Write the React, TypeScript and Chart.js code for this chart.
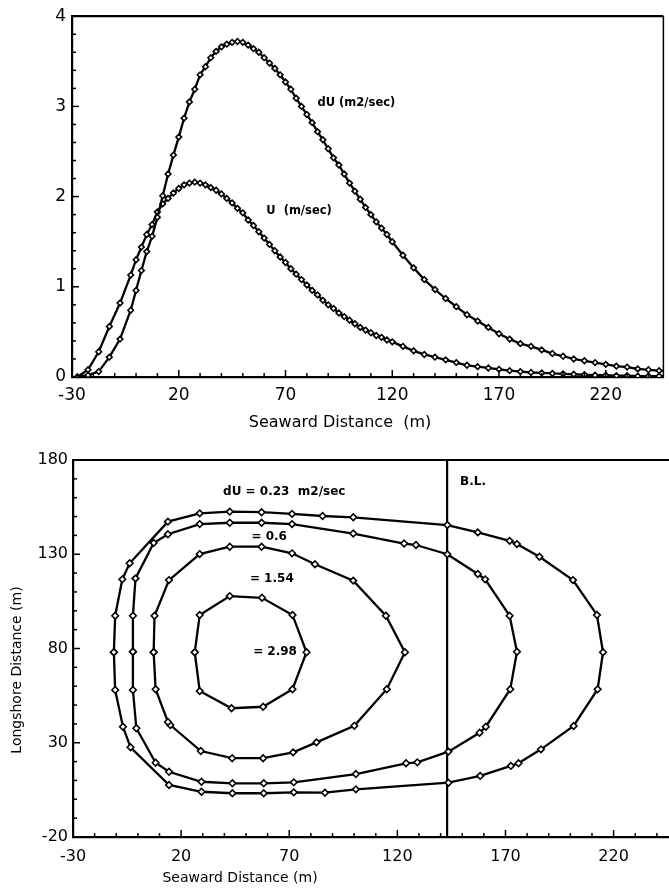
import React, { useEffect, useRef } from "react";
import { Chart, registerables } from "chart.js";

Chart.register(...registerables);

const FONT = "'DejaVu Sans', 'Liberation Sans', sans-serif";

// ---------------- Top chart: profiles across the surf zone ----------------
const seawardX = [
  -27.5, -22.5, -17.5, -12.5, -7.5, -2.5, 0, 2.5, 5, 7.5, 10, 12.5, 15, 17.5, 20, 22.5, 25, 27.5, 30, 32.5,
  35, 37.5, 40, 42.5, 45, 47.5, 50, 52.5, 55, 57.5, 60, 62.5, 65, 67.5, 70, 72.5, 75, 77.5, 80, 82.5,
  85, 87.5, 90, 92.5, 95, 97.5, 100, 102.5, 105, 107.5, 110, 112.5, 115, 117.5, 120, 125, 130, 135, 140, 145,
  150, 155, 160, 165, 170, 175, 180, 185, 190, 195, 200, 205, 210, 215, 220, 225, 230, 235, 240, 245, 250,
];
const dUValues = [
  0.0, 0.02, 0.06, 0.22, 0.42, 0.74, 0.96, 1.18, 1.39, 1.56, 1.77, 2.01, 2.25, 2.46, 2.66, 2.87, 3.05, 3.19, 3.35, 3.44,
  3.54, 3.61, 3.66, 3.69, 3.71, 3.72, 3.71, 3.68, 3.64, 3.6, 3.54, 3.48, 3.42, 3.35, 3.27, 3.19, 3.09, 3.0, 2.91, 2.82,
  2.72, 2.63, 2.53, 2.43, 2.35, 2.25, 2.15, 2.06, 1.97, 1.88, 1.8, 1.72, 1.65, 1.58, 1.5, 1.35, 1.21, 1.08, 0.97, 0.87,
  0.78, 0.69, 0.62, 0.55, 0.48, 0.42, 0.37, 0.34, 0.3, 0.26, 0.23, 0.2, 0.18, 0.16, 0.14, 0.12, 0.11, 0.09, 0.08, 0.07, 0.06,
];
const uValues = [
  0.0, 0.08, 0.28, 0.56, 0.82, 1.13, 1.3, 1.44, 1.58, 1.69, 1.83, 1.92, 1.98, 2.04, 2.09, 2.13, 2.15, 2.16, 2.15, 2.13,
  2.1, 2.07, 2.03, 1.98, 1.93, 1.87, 1.82, 1.74, 1.68, 1.61, 1.54, 1.47, 1.4, 1.33, 1.27, 1.2, 1.14, 1.08, 1.02, 0.96,
  0.91, 0.85, 0.8, 0.76, 0.71, 0.67, 0.63, 0.59, 0.55, 0.52, 0.49, 0.46, 0.44, 0.41, 0.39, 0.34, 0.29, 0.25, 0.22, 0.19,
  0.16, 0.13, 0.115, 0.1, 0.085, 0.07, 0.06, 0.05, 0.045, 0.04, 0.035, 0.03, 0.025, 0.02, 0.02, 0.015, 0.015, 0.01, 0.01, 0.01, 0.01,
];
const topXTicks = [-30, 20, 70, 120, 170, 220];
const topYTicks = [0, 1, 2, 3, 4];
const topLabelTexts = ["dU (m2/sec)", "U  (m/sec)"];
const topLabelX = [85, 61];
const topLabelY = [3.04, 1.84];

// ---------------- Bottom chart: dU contours ----------------
const contour023X = [-11.1, -10.5, -7.2, -3.8, 13.9, 28.6, 42.5, 57.2, 71.3, 85.4, 99.6, 143.1, 157.2, 171.9, 175.3, 185.7, 201.2, 212.3, 215.1, 212.6, 201.5, 186.4, 176.0, 172.5, 158.3, 143.6, 100.8, 86.5, 72.1, 58.2, 43.7, 29.4, 14.4, -3.4, -6.9, -10.5, -11.1];
const contour023Y = [78, 97.4, 116.7, 125.2, 147.3, 151.7, 152.6, 152.3, 151.4, 150.3, 149.6, 145.5, 141.6, 137.1, 135.4, 128.7, 116.3, 97.8, 78, 58.4, 38.9, 26.5, 19.1, 17.7, 12.4, 8.8, 5.3, 3.5, 3.7, 3.2, 3.2, 4.0, 7.6, 27.6, 38.5, 58, 78];
const contour06X = [-2.3, -2.3, -1.1, 7.3, 13.9, 28.6, 42.5, 57.2, 71.3, 99.6, 123.1, 128.6, 143.1, 157.2, 160.6, 171.9, 175.3, 172.2, 160.9, 158.0, 143.6, 129.2, 124.0, 100.8, 72.1, 58.2, 43.7, 29.4, 14.4, 8.2, -0.7, -2.3, -2.3];
const contour06Y = [78.3, 97.4, 117.2, 136, 140.6, 146, 146.7, 146.7, 146, 141, 135.7, 134.9, 130, 119.5, 116.7, 97.4, 78.3, 58.4, 38.5, 35.3, 25.3, 19.6, 19.1, 13.4, 9.0, 8.5, 8.5, 9.3, 14.6, 19.4, 37.7, 58, 78.3];
const contour154X = [7.3, 7.7, 14.4, 28.6, 42.5, 57.2, 71.3, 81.9, 99.6, 114.7, 123.5, 115.1, 100.1, 82.6, 71.8, 57.9, 43.6, 29.1, 15.0, 13.9, 8.2, 7.3];
const contour154Y = [78, 97.4, 116.3, 130.1, 134, 134, 130.5, 124.7, 116, 97.4, 78, 58.4, 39, 30.2, 24.9, 21.8, 21.8, 25.6, 39.4, 41, 58.4, 78];
const contour298X = [26.3, 28.6, 42.5, 57.4, 71.5, 78.0, 71.5, 57.9, 43.3, 28.6, 26.3];
const contour298Y = [78, 97.8, 107.8, 106.9, 97.8, 78, 58.4, 49.1, 48.3, 57.4, 78];
const contourLevels = ["0.23", "0.6", "1.54", "2.98"];
const bottomXTicks = [-30, 20, 70, 120, 170, 220];
const bottomYTicks = [-20, 30, 80, 130, 180];
const breakerLineX = 143;
const bottomLabelTexts = ["dU = 0.23  m2/sec", "= 0.6", "= 1.54", "= 2.98", "B.L."];
const bottomLabelX = [39.4, 52.5, 51.8, 53.3, 149];
const bottomLabelY = [163.2, 139.3, 116.7, 78, 168.5];

const zip = (xs: number[], ys: number[]) => xs.map((x, i) => ({ x, y: ys[i] }));

function seriesStyle(radius: number) {
  return {
    showLine: true,
    borderColor: "#000",
    borderWidth: 2.3,
    pointStyle: "rectRot",
    pointRadius: radius,
    pointBackgroundColor: "#fff",
    pointBorderColor: "#000",
    pointBorderWidth: 1.6,
    fill: false,
    tension: 0,
  };
}

type Overlay = {
  xStart: number; xMinor: number; xMajor: number;
  yStart: number; yMinor: number; yMajor: number;
  frameTop: boolean; frameRight: boolean;
  vLineX?: number;
  labels: { text: string; x: number; y: number }[];
  labelFont: string;
  titles: { text: string; x: number; y: number; rotate?: boolean; font: string }[];
};

function overlayPlugin(cfg: Overlay) {
  return {
    id: "overlay",
    beforeDatasetsDraw(chart: any) {
      if (cfg.vLineX === undefined) return;
      const { ctx, chartArea: a, scales } = chart;
      const px = scales.x.getPixelForValue(cfg.vLineX);
      ctx.save();
      ctx.strokeStyle = "#000";
      ctx.lineWidth = 2.2;
      ctx.beginPath();
      ctx.moveTo(px, a.top);
      ctx.lineTo(px, a.bottom);
      ctx.stroke();
      ctx.restore();
    },
    afterDraw(chart: any) {
      const { ctx, chartArea: a, scales } = chart;
      const xs = scales.x;
      const ys = scales.y;
      ctx.save();
      ctx.strokeStyle = "#000";
      ctx.fillStyle = "#000";
      ctx.lineWidth = 1.5;
      const isMajor = (v: number, s: number, m: number) => {
        const k = (v - s) / m;
        return Math.abs(k - Math.round(k)) < 1e-6;
      };
      for (let v = cfg.xStart; v <= xs.max + 1e-9; v += cfg.xMinor) {
        const px = xs.getPixelForValue(v);
        const len = isMajor(v, cfg.xStart, cfg.xMajor) ? 7 : 4;
        ctx.beginPath();
        ctx.moveTo(px, a.bottom);
        ctx.lineTo(px, a.bottom - len);
        ctx.stroke();
      }
      for (let v = cfg.yStart; v <= ys.max + 1e-9; v += cfg.yMinor) {
        const py = ys.getPixelForValue(v);
        const len = isMajor(v, cfg.yStart, cfg.yMajor) ? 7 : 4;
        ctx.beginPath();
        ctx.moveTo(a.left, py);
        ctx.lineTo(a.left + len, py);
        ctx.stroke();
      }
      if (cfg.frameTop) {
        ctx.lineWidth = 2.2;
        ctx.beginPath();
        ctx.moveTo(a.left, a.top);
        ctx.lineTo(a.right, a.top);
        ctx.stroke();
      }
      if (cfg.frameRight) {
        ctx.lineWidth = 1.5;
        ctx.beginPath();
        ctx.moveTo(a.right, a.top);
        ctx.lineTo(a.right, a.bottom);
        ctx.stroke();
      }
      ctx.font = cfg.labelFont;
      ctx.textAlign = "left";
      ctx.textBaseline = "middle";
      cfg.labels.forEach((l) => {
        ctx.fillText(l.text, xs.getPixelForValue(l.x), ys.getPixelForValue(l.y));
      });
      cfg.titles.forEach((t) => {
        ctx.save();
        ctx.font = t.font;
        ctx.translate(t.x, t.y);
        if (t.rotate) ctx.rotate(-Math.PI / 2);
        ctx.textAlign = "center";
        ctx.textBaseline = "middle";
        ctx.fillText(t.text, 0, 0);
        ctx.restore();
      });
      ctx.restore();
    },
  };
}

function axes(opts: {
  xMin: number; xMax: number; yMin: number; yMax: number;
  xTicks: number[]; yTicks: number[]; yWidth: number; xHeight: number;
  tickFont: number; xPad: number; yPad: number;
}) {
  return {
    x: {
      type: "linear",
      min: opts.xMin,
      max: opts.xMax,
      grid: { display: false, drawTicks: false },
      border: { display: true, color: "#000", width: 2.2 },
      ticks: {
        autoSkip: false,
        maxRotation: 0,
        padding: opts.xPad,
        color: "#000",
        font: { family: FONT, size: opts.tickFont },
        callback: (v: number) => String(v),
      },
      afterBuildTicks: (s: any) => {
        s.ticks = opts.xTicks.map((v) => ({ value: v }));
      },
      afterFit: (s: any) => {
        s.height = opts.xHeight;
      },
    },
    y: {
      type: "linear",
      min: opts.yMin,
      max: opts.yMax,
      grid: { display: false, drawTicks: false },
      border: { display: true, color: "#000", width: 2.2 },
      ticks: {
        autoSkip: false,
        padding: opts.yPad,
        color: "#000",
        font: { family: FONT, size: opts.tickFont },
        callback: (v: number) => String(v),
      },
      afterBuildTicks: (s: any) => {
        s.ticks = opts.yTicks.map((v) => ({ value: v }));
      },
      afterFit: (s: any) => {
        s.width = opts.yWidth;
      },
    },
  };
}

function buildTop(): any {
  return {
    type: "scatter",
    data: {
      datasets: [
        { label: "dU (m2/sec)", data: zip(seawardX, dUValues), ...seriesStyle(2.8) },
        { label: "U (m/sec)", data: zip(seawardX, uValues), ...seriesStyle(2.8) },
      ],
    },
    options: {
      responsive: false,
      animation: false,
      devicePixelRatio: 1,
      layout: { padding: { left: 0, top: 10, right: 4, bottom: 0 } },
      plugins: { legend: { display: false }, tooltip: { enabled: false } },
      scales: axes({
        xMin: -30, xMax: 247, yMin: 0, yMax: 4,
        xTicks: topXTicks, yTicks: topYTicks,
        yWidth: 72, xHeight: 68, tickFont: 17, xPad: 8, yPad: 6,
      }),
    },
    plugins: [
      overlayPlugin({
        xStart: -30, xMinor: 10, xMajor: 50,
        yStart: 0, yMinor: 0.2, yMajor: 1,
        frameTop: true, frameRight: true,
        labels: topLabelTexts.map((t, i) => ({ text: t, x: topLabelX[i], y: topLabelY[i] })),
        labelFont: `bold 11.5px ${FONT}`,
        titles: [{ text: "Seaward Distance  (m)", x: 340, y: 423, font: `16px ${FONT}` }],
      }),
    ],
  };
}

function buildBottom(): any {
  const contours = [
    zip(contour023X, contour023Y),
    zip(contour06X, contour06Y),
    zip(contour154X, contour154Y),
    zip(contour298X, contour298Y),
  ];
  return {
    type: "scatter",
    data: {
      datasets: contours.map((d, i) => ({
        label: "dU = " + contourLevels[i],
        data: d,
        ...seriesStyle(3.3),
      })),
    },
    options: {
      responsive: false,
      animation: false,
      devicePixelRatio: 1,
      layout: { padding: { left: 0, top: 15, right: 8, bottom: 0 } },
      plugins: { legend: { display: false }, tooltip: { enabled: false } },
      scales: axes({
        xMin: -30, xMax: 247, yMin: -20, yMax: 180,
        xTicks: bottomXTicks, yTicks: bottomYTicks,
        yWidth: 73, xHeight: 56, tickFont: 16, xPad: 10, yPad: 5,
      }),
    },
    plugins: [
      overlayPlugin({
        xStart: -30, xMinor: 10, xMajor: 50,
        yStart: -20, yMinor: 10, yMajor: 50,
        frameTop: true, frameRight: false,
        vLineX: breakerLineX,
        labels: bottomLabelTexts.map((t, i) => ({ text: t, x: bottomLabelX[i], y: bottomLabelY[i] })),
        labelFont: `bold 12px ${FONT}`,
        titles: [
          { text: "Seaward Distance (m)", x: 240, y: 433, font: `14px ${FONT}` },
          { text: "Longshore Distance (m)", x: 17, y: 225, rotate: true, font: `14px ${FONT}` },
        ],
      }),
    ],
  };
}

function ChartCanvas(props: { build: () => any; width: number; height: number; top: number }) {
  const ref = useRef<HTMLCanvasElement>(null);
  useEffect(() => {
    const chart = new Chart(ref.current as HTMLCanvasElement, props.build());
    return () => chart.destroy();
  }, []);
  return (
    <canvas
      ref={ref}
      width={props.width}
      height={props.height}
      style={{ position: "absolute", left: 0, top: props.top, width: props.width, height: props.height, display: "block" }}
    />
  );
}

export default function App() {
  return (
    <div style={{ position: "fixed", left: 0, top: 0, width: 669, height: 893, overflow: "hidden", background: "#fff" }}>
      <ChartCanvas build={buildTop} width={669} height={445} top={0} />
      <ChartCanvas build={buildBottom} width={680} height={448} top={445} />
    </div>
  );
}
